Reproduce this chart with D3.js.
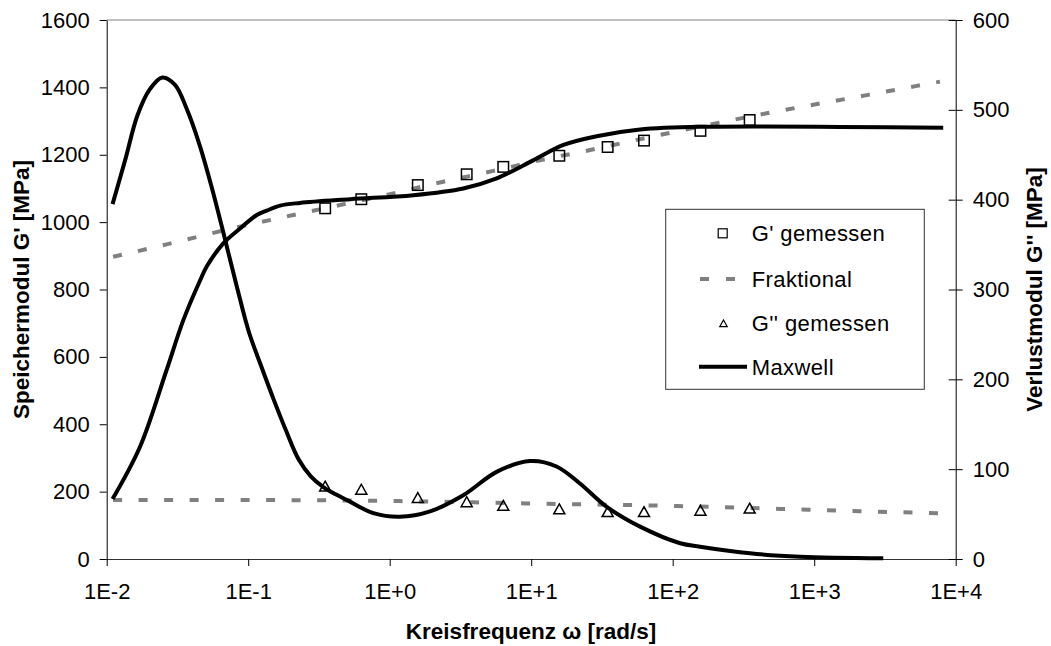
<!DOCTYPE html>
<html>
<head>
<meta charset="utf-8">
<script src="https://cdn.jsdelivr.net/npm/d3@7"></script>
<style>
  html, body { margin: 0; padding: 0; background: #fff; }
  svg { display: block; }
  text { font-family: "Liberation Sans", Arial, sans-serif; fill: #000; }
</style>
</head>
<body>
<svg id="chart" width="1051" height="646"></svg>
<script>
// Measured storage modulus G' (left axis, MPa)
const gStorageOmega = [0.35, 0.63, 1.58, 3.5, 6.35, 15.8, 34.7, 62.7, 157, 350];
const gStorageValue = [1041, 1068, 1110, 1142, 1164, 1197, 1223, 1242, 1271, 1303];

// Measured loss modulus G'' (right axis, MPa)
const gLossOmega = [0.35, 0.63, 1.58, 3.5, 6.35, 15.8, 34.7, 62.7, 157, 350];
const gLossValue = [81.1, 77.7, 68.5, 63.8, 59.7, 55.8, 52.7, 52.7, 54.3, 56.6];

// Fractional model, storage part (left axis)
const fracStorageOmega = [0.0111, 0.0265, 0.0785, 0.208, 1.0, 2.39, 5.4, 12.2, 26.1, 38.0, 90.8, 461, 2350, 7740];
const fracStorageValue = [897, 934, 982, 1021, 1083, 1120, 1152, 1186, 1214, 1229, 1263, 1323, 1377, 1417];

// Fractional model, loss part (right axis)
const fracLossOmega = [0.0111, 0.1, 1.0, 3.9, 10, 107, 573, 1000, 8000];
const fracLossValue = [65.7, 65.6, 64.6, 63.1, 61.8, 59.0, 55.7, 54.6, 50.8];

// Maxwell model, storage part (left axis)
const maxStorageOmega = [0.011, 0.0172, 0.0265, 0.0348, 0.0456, 0.0509, 0.0667, 0.0875, 0.115, 0.135, 0.168, 0.232, 0.524, 1.47, 3.31, 5.7, 10.4, 16.9, 29.0, 58.8, 156, 8160];
const maxStorageValue = [178, 333, 561, 709, 826, 868, 937, 981, 1021, 1034, 1049, 1057, 1068, 1080, 1100, 1130, 1184, 1229, 1255, 1275, 1283, 1280];

// Maxwell model, loss part (right axis)
const maxLossOmega = [0.011, 0.0135, 0.0165, 0.0202, 0.0247, 0.0303, 0.037, 0.0453, 0.0554, 0.0678, 0.0829, 0.101, 0.124, 0.151, 0.185, 0.227, 0.277, 0.34, 0.415, 0.508, 0.766, 1.18, 1.93, 3.31, 5.7, 9.82, 15.1, 22.1, 34.2, 58.8, 113, 156, 352, 795, 3076];
const maxLossValue = [395, 444, 494, 523, 536, 528, 500, 461, 413, 359, 304, 253, 214, 178, 143, 111, 92, 80, 72, 65, 51, 47, 53, 71, 97, 109, 103, 84, 58, 36, 17.5, 13.7, 6.3, 2.6, 0.8];

// Axis ticks and labels
const xTicks = [1e-2, 1e-1, 1e0, 1e1, 1e2, 1e3, 1e4];
const xTickLabels = ["1E-2", "1E-1", "1E+0", "1E+1", "1E+2", "1E+3", "1E+4"];
const yLeftTicks = [0, 200, 400, 600, 800, 1000, 1200, 1400, 1600];
const yRightTicks = [0, 100, 200, 300, 400, 500, 600];

const legendItems = ["G' gemessen", "Fraktional", "G'' gemessen", "Maxwell"];

const svg = d3.select("#chart");
const FS = 22;       // regular text
const FS_TITLE = 22.5; // bold axis titles
const GRAY = "#808080";

const plotLeft = 106.7, plotRight = 955.7, plotTop = 20, plotBottom = 559;
const plotMidY = (plotTop + plotBottom) / 2;

const x = d3.scaleLog().domain([1e-2, 1e4]).range([plotLeft, plotRight]);
const yL = d3.scaleLinear().domain([0, 1600]).range([plotBottom, plotTop]);
const yR = d3.scaleLinear().domain([0, 600]).range([plotBottom, plotTop]);

const zip = (a, b) => a.map((d, i) => [d, b[i]]);

// plot frame: gray top edge
svg.append("line")
  .attr("x1", plotLeft).attr("x2", plotRight).attr("y1", plotTop).attr("y2", plotTop)
  .attr("stroke", GRAY).attr("stroke-width", 1);

// Axes
const xAxis = d3.axisBottom(x).tickValues(xTicks)
  .tickFormat((d, i) => xTickLabels[i]).tickSizeInner(7).tickSizeOuter(0).tickPadding(17);
const gx = svg.append("g").attr("transform", `translate(0,${plotBottom})`).call(xAxis);

const yAxisL = d3.axisLeft(yL).tickValues(yLeftTicks).tickFormat(d3.format("d"))
  .tickSizeInner(7).tickSizeOuter(0).tickPadding(10);
const gyl = svg.append("g").attr("transform", `translate(${plotLeft},0)`).call(yAxisL);

const yAxisR = d3.axisRight(yR).tickValues(yRightTicks).tickFormat(d3.format("d"))
  .tickSizeInner(7).tickSizeOuter(0).tickPadding(10);
const gyr = svg.append("g").attr("transform", `translate(${plotRight},0)`).call(yAxisR);
// right axis ticks cross the axis line
gyr.selectAll(".tick").append("line").attr("x1", -7).attr("x2", 0).attr("stroke", "#000");

[gx, gyl, gyr].forEach(g => {
  g.selectAll("text").style("font-family", '"Liberation Sans", Arial, sans-serif')
    .style("font-size", FS + "px").attr("fill", "#000");
  g.selectAll("path, line").attr("stroke", "#000").attr("stroke-width", 1);
});
gx.select(".domain").attr("stroke", "#333");

// Axis titles
svg.append("text").attr("x", 531).attr("y", 639).attr("text-anchor", "middle")
  .style("font-size", FS_TITLE + "px").style("font-weight", "bold")
  .text("Kreisfrequenz ω [rad/s]");
svg.append("text").attr("transform", `translate(29,${plotMidY}) rotate(-90)`)
  .attr("text-anchor", "middle").style("font-size", FS_TITLE + "px").style("font-weight", "bold")
  .text("Speichermodul G' [MPa]");
svg.append("text").attr("transform", `translate(1042,${plotMidY}) rotate(-90)`)
  .attr("text-anchor", "middle").style("font-size", FS_TITLE + "px").style("font-weight", "bold")
  .text("Verlustmodul G'' [MPa]");

// Lines
const fracL = d3.line().x(d => x(d[0])).y(d => yL(d[1])).curve(d3.curveMonotoneX);
const fracR = d3.line().x(d => x(d[0])).y(d => yR(d[1])).curve(d3.curveMonotoneX);
const maxL = d3.line().x(d => x(d[0])).y(d => yL(d[1])).curve(d3.curveCatmullRom.alpha(0.5));
const maxR = d3.line().x(d => x(d[0])).y(d => yR(d[1])).curve(d3.curveCatmullRom.alpha(0.5));

const plot = svg.append("g");

plot.append("path").datum(zip(fracStorageOmega, fracStorageValue))
  .attr("d", fracL).attr("fill", "none").attr("stroke", GRAY)
  .attr("stroke-width", 4).attr("stroke-dasharray", "9,16.5");
plot.append("path").datum(zip(fracLossOmega, fracLossValue))
  .attr("d", fracR).attr("fill", "none").attr("stroke", GRAY)
  .attr("stroke-width", 4).attr("stroke-dasharray", "9,16.5");

plot.append("path").datum(zip(maxStorageOmega, maxStorageValue))
  .attr("d", maxL).attr("fill", "none").attr("stroke", "#000")
  .attr("stroke-width", 4).attr("stroke-linejoin", "round");
plot.append("path").datum(zip(maxLossOmega, maxLossValue))
  .attr("d", maxR).attr("fill", "none").attr("stroke", "#000")
  .attr("stroke-width", 4).attr("stroke-linejoin", "round");

// Markers
const SQ = 10.5;
plot.selectAll("rect.gs").data(zip(gStorageOmega, gStorageValue)).join("rect")
  .attr("class", "gs")
  .attr("x", d => x(d[0]) - SQ / 2).attr("y", d => yL(d[1]) - SQ / 2)
  .attr("width", SQ).attr("height", SQ)
  .attr("fill", "none").attr("stroke", "#000").attr("stroke-width", 1.5);

const tri = (cx, cy, s) => {
  const h = s * 0.9;
  return `M${cx},${cy - h / 2}L${cx + s / 2},${cy + h / 2}L${cx - s / 2},${cy + h / 2}Z`;
};
plot.selectAll("path.gl").data(zip(gLossOmega, gLossValue)).join("path")
  .attr("class", "gl")
  .attr("d", d => tri(x(d[0]), yR(d[1]), 11))
  .attr("fill", "none").attr("stroke", "#000").attr("stroke-width", 1.5);

// Legend
const lg = svg.append("g");
lg.append("rect").attr("x", 665.7).attr("y", 209.3).attr("width", 258.6).attr("height", 180)
  .attr("fill", "#fff").attr("stroke", "#333").attr("stroke-width", 1);
const rowY = [233.3, 279, 323.3, 366.7];
legendItems.forEach((t, i) => {
  lg.append("text").attr("x", 751.7).attr("y", rowY[i]).attr("dy", "0.36em")
    .style("font-size", FS + "px").style("letter-spacing", "0.4px").text(t);
});
lg.append("rect").attr("x", 722.7 - 4.5).attr("y", rowY[0] - 4.5).attr("width", 9).attr("height", 9)
  .attr("fill", "none").attr("stroke", "#000").attr("stroke-width", 1.2);
lg.append("line").attr("x1", 700).attr("x2", 736).attr("y1", rowY[1]).attr("y2", rowY[1])
  .attr("stroke", GRAY).attr("stroke-width", 4).attr("stroke-dasharray", "9,17");
lg.append("path").attr("d", tri(723.5, rowY[2], 7.5))
  .attr("fill", "none").attr("stroke", "#000").attr("stroke-width", 1.2);
lg.append("line").attr("x1", 699).attr("x2", 747).attr("y1", rowY[3]).attr("y2", rowY[3])
  .attr("stroke", "#000").attr("stroke-width", 4);
</script>
</body>
</html>
